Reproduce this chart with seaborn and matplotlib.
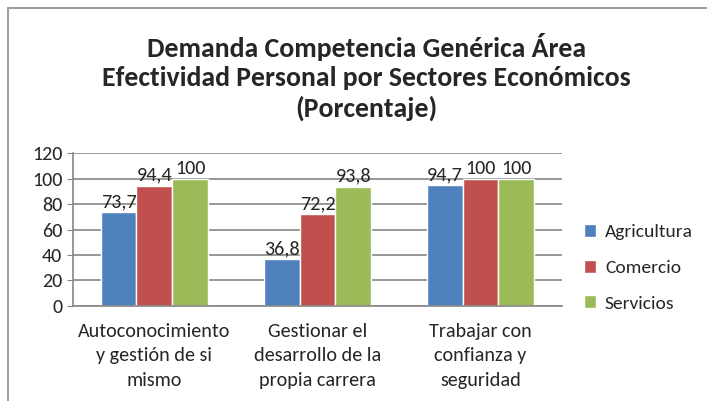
import pandas as pd
import seaborn as sns
import matplotlib.pyplot as plt
from matplotlib.lines import Line2D

# datos
categorias = ['Autoconocimiento\ny gestión de si\nmismo',
              'Gestionar el\ndesarrollo de la\npropia carrera',
              'Trabajar con\nconfianza y\nseguridad']
sectores = ['Agricultura', 'Comercio', 'Servicios']
agricultura = [73.7, 36.8, 94.7]
comercio = [94.4, 72.2, 100]
servicios = [100, 93.8, 100]
etiquetas_y = [0, 20, 40, 60, 80, 100, 120]
colores = ['#4F81BD', '#C0504D', '#9BBB59']

df = pd.DataFrame({
    'categoria': categorias * 3,
    'sector': [s for s in sectores for _ in categorias],
    'valor': agricultura + comercio + servicios,
})

sns.set_style('white')
plt.rcParams['font.family'] = ['Carlito', 'Liberation Sans Narrow', 'DejaVu Sans']

fig = plt.figure(figsize=(7.07, 4.01), dpi=100)
ax = fig.add_axes([0.103, 0.237, 0.692, 0.381])

sns.barplot(data=df, x='categoria', y='valor', hue='sector', palette=colores,
            width=0.66, saturation=1, ax=ax, legend=True)

# etiquetas de datos
for cont in ax.containers:
    ax.bar_label(cont, labels=[f'{v:g}'.replace('.', ',') for v in cont.datavalues],
                 fontsize=14.5, padding=1.5)

ax.set_ylim(0, 120)
ax.set_yticks(etiquetas_y)
ax.set_xlim(-0.5, 2.5)
ax.yaxis.grid(True, color='#868686', linewidth=1.2)
ax.set_axisbelow(True)
for s in ['top', 'right']:
    ax.spines[s].set_visible(False)
for s in ['left', 'bottom']:
    ax.spines[s].set_color('#868686')
    ax.spines[s].set_linewidth(1.2)
ax.tick_params(axis='y', labelsize=14.5, length=4, color='#868686', left=True)
ax.tick_params(axis='x', labelsize=14.5, length=0, pad=12)
for t in ax.get_xticklabels():
    t.set_linespacing(1.55)
ax.set_xlabel('')
ax.set_ylabel('')

leg = ax.legend(loc='center left', bbox_to_anchor=(1.02, 0.25), frameon=False,
                fontsize=14, handlelength=0.65, handleheight=0.65,
                handletextpad=0.45, labelspacing=1.0, borderaxespad=0.2)

fig.text(0.518, 0.808, 'Demanda Competencia Genérica Área\nEfectividad Personal por Sectores Económicos\n(Porcentaje)',
         ha='center', va='center', fontsize=20, fontweight='bold', linespacing=1.28)

# marco del gráfico
fig.add_artist(Line2D([0.012, 1.0], [0.98, 0.98], color='#A0A0A0', linewidth=1.5))
fig.add_artist(Line2D([0.012, 0.012], [0.0, 0.98], color='#A0A0A0', linewidth=1.5))

fig.savefig('out.png', dpi=100)
